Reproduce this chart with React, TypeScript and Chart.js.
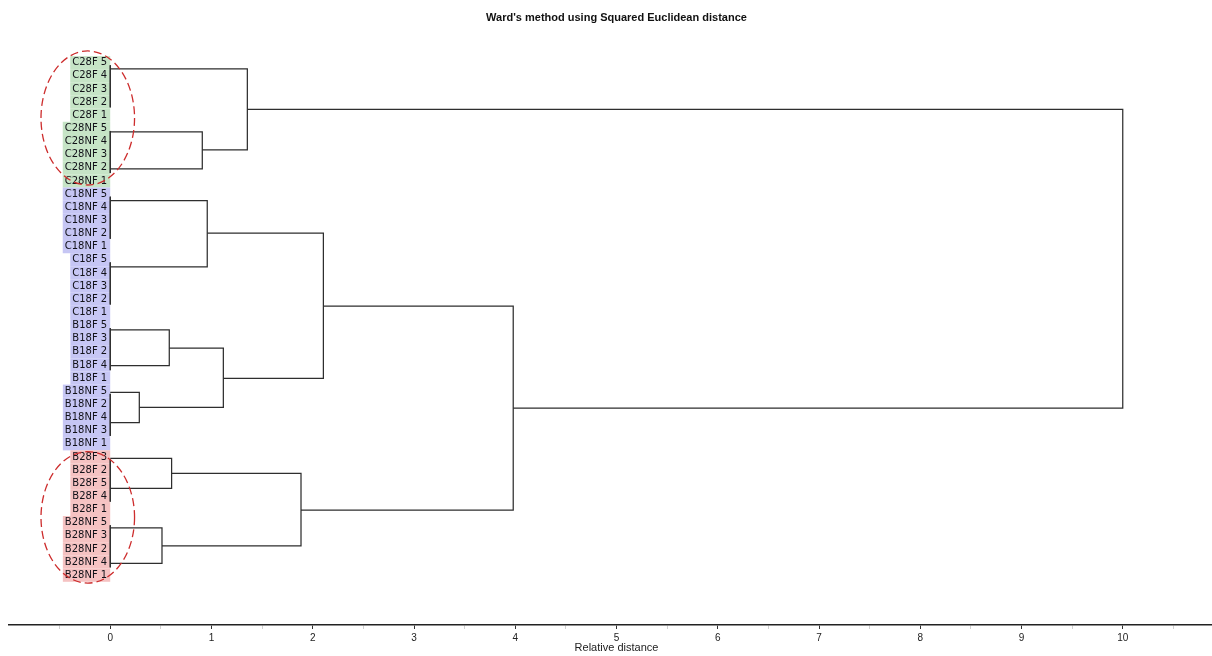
import React, { useEffect, useRef } from 'react';
import { Chart, registerables } from 'chart.js';

Chart.register(...registerables);

// Leaf labels, top to bottom (row index = position on the y scale)
const LEAVES = [
  'C28F 5', 'C28F 4', 'C28F 3', 'C28F 2', 'C28F 1',
  'C28NF 5', 'C28NF 4', 'C28NF 3', 'C28NF 2', 'C28NF 1',
  'C18NF 5', 'C18NF 4', 'C18NF 3', 'C18NF 2', 'C18NF 1',
  'C18F 5', 'C18F 4', 'C18F 3', 'C18F 2', 'C18F 1',
  'B18F 5', 'B18F 3', 'B18F 2', 'B18F 4', 'B18F 1',
  'B18NF 5', 'B18NF 2', 'B18NF 4', 'B18NF 3', 'B18NF 1',
  'B28F 3', 'B28F 2', 'B28F 5', 'B28F 4', 'B28F 1',
  'B28NF 5', 'B28NF 3', 'B28NF 2', 'B28NF 4', 'B28NF 1',
];

// Dendrogram links: merge distance, rows of the two joined branches, and the
// distances at which each branch itself was formed.
const LINK_HEIGHT = [0.909, 1.354, 0.958, 0.583, 0.287, 1.117, 2.105, 0.606, 0.511, 1.884, 3.98, 10.0];
const LINK_TOP_ROW = [5.27, 0.48, 10.5, 20.34, 25.08, 21.73, 12.98, 30.11, 35.39, 31.25, 18.52, 3.56];
const LINK_BOTTOM_ROW = [8.09, 6.64, 15.53, 23.06, 27.4, 26.23, 24.02, 32.39, 38.1, 36.76, 34.04, 26.28];
const LINK_TOP_CHILD = [0, 0, 0, 0, 0, 0.583, 0.958, 0, 0, 0.606, 2.105, 1.354];
const LINK_BOTTOM_CHILD = [0, 0.909, 0, 0, 0, 0.287, 1.117, 0, 0, 0.511, 1.884, 3.98];

// Zero-distance joins of the replicate leaves (short bars next to labels)
const GROUP_BAR_TOP = [0.2, 5.2, 10.2, 15.2, 20.2, 25.2, 30.2, 35.2];
const GROUP_BAR_BOTTOM = [3.4, 8.4, 13.4, 18.4, 23.4, 28.4, 33.4, 38.4];

// X axis
const X_MIN = -1;
const X_MAX = 11;
const X_LABELED = [0, 1, 2, 3, 4, 5, 6, 7, 8, 9, 10];

// Dashed ellipses highlighting the 28 groups
const ELLIPSE_CENTER_X = [-0.222, -0.222];
const ELLIPSE_CENTER_ROW = [4.21, 34.6];
const ELLIPSE_RX = [0.462, 0.462];
const ELLIPSE_RY = [5.1, 5.0];

const Y_MIN = -2.47;
const Y_MAX = 42.79;
const LABEL_ANCHOR_X = -0.03;

const GREEN = 'rgb(198,228,198)';
const BLUE = 'rgb(198,198,244)';
const RED = 'rgb(245,194,194)';

function leafColor(label: string): string {
  if (label.startsWith('C28')) return GREEN;
  if (label.startsWith('B28')) return RED;
  return BLUE;
}

const LINE_COLOR = '#2e2e2e';

const ellipsePlugin = {
  id: 'groupEllipses',
  afterDatasetsDraw(chart: any) {
    const { ctx, scales } = chart;
    const x = scales.x;
    const y = scales.y;
    ctx.save();
    ctx.strokeStyle = 'rgb(205,45,45)';
    ctx.lineWidth = 1.3;
    ctx.setLineDash([8, 4]);
    ELLIPSE_CENTER_ROW.forEach((row, i) => {
      const cx = x.getPixelForValue(ELLIPSE_CENTER_X[i]);
      const cy = y.getPixelForValue(row);
      const rx = Math.abs(x.getPixelForValue(ELLIPSE_CENTER_X[i] + ELLIPSE_RX[i]) - cx);
      const ry = Math.abs(y.getPixelForValue(row + ELLIPSE_RY[i]) - cy);
      ctx.beginPath();
      ctx.ellipse(cx, cy, rx, ry, 0, 0, Math.PI * 2);
      ctx.stroke();
    });
    ctx.restore();
  },
};

export default function App() {
  const canvasRef = useRef<HTMLCanvasElement | null>(null);

  useEffect(() => {
    document.body.style.overflow = 'hidden';
    const canvas = canvasRef.current;
    if (!canvas) return;

    const linkSets = LINK_HEIGHT.map((h, i) => ({
      data: [
        { x: LINK_TOP_CHILD[i], y: LINK_TOP_ROW[i] },
        { x: h, y: LINK_TOP_ROW[i] },
        { x: h, y: LINK_BOTTOM_ROW[i] },
        { x: LINK_BOTTOM_CHILD[i], y: LINK_BOTTOM_ROW[i] },
      ],
      showLine: true,
      borderColor: LINE_COLOR,
      borderWidth: 1.25,
      pointRadius: 0,
      fill: false,
      tension: 0,
    }));

    const barSets = GROUP_BAR_TOP.map((top, i) => ({
      data: [
        { x: 0, y: top },
        { x: 0, y: GROUP_BAR_BOTTOM[i] },
      ],
      showLine: true,
      borderColor: LINE_COLOR,
      borderWidth: 1,
      pointRadius: 0,
      fill: false,
      tension: 0,
    }));

    const chart = new Chart(canvas, {
      type: 'scatter',
      data: { datasets: [...barSets, ...linkSets] as any },
      plugins: [ellipsePlugin],
      options: {
        animation: false,
        responsive: true,
        maintainAspectRatio: false,
        layout: { padding: { left: 9, right: 0, top: 0, bottom: 0 } },
        plugins: {
          legend: { display: false },
          tooltip: { enabled: false },
          title: {
            display: true,
            text: "Ward's method using Squared Euclidean distance",
            color: '#111111',
            font: { family: '"Liberation Sans", Arial, sans-serif', size: 11, weight: 'bold' },
            padding: { top: 11, bottom: 6 },
          },
        },
        scales: {
          x: {
            type: 'linear',
            position: 'bottom',
            min: X_MIN,
            max: X_MAX,
            afterBuildTicks: (scale: any) => {
              scale.ticks = scale.ticks.filter((t: any) => t.value > X_MIN + 0.01 && t.value < X_MAX - 0.01);
            },
            afterFit: (scale: any) => {
              scale.height = 31;
            },
            ticks: {
              stepSize: 0.5,
              autoSkip: false,
              maxRotation: 0,
              padding: 3,
              color: '#222222',
              font: { family: '"Liberation Sans", Arial, sans-serif', size: 10 },
              callback: (v: any) => (X_LABELED.includes(Number(v)) ? String(v) : ''),
            },
            grid: {
              drawOnChartArea: false,
              drawTicks: true,
              tickLength: 4,
              tickColor: (ctx: any) =>
                ctx.tick && Number.isInteger(ctx.tick.value) ? '#333333' : 'rgba(0,0,0,0.18)',
            },
            border: { display: true, color: '#222222', width: 1.6 },
            title: {
              display: true,
              text: 'Relative distance',
              color: '#222222',
              font: { family: '"Liberation Sans", Arial, sans-serif', size: 11 },
              padding: { top: 0, bottom: 1 },
            },
          },
          y: {
            type: 'linear',
            position: { x: LABEL_ANCHOR_X } as any,
            reverse: true,
            min: Y_MIN,
            max: Y_MAX,
            afterBuildTicks: (scale: any) => {
              scale.ticks = LEAVES.map((_, i) => ({ value: i }));
            },
            ticks: {
              autoSkip: false,
              padding: 4,
              color: '#111118',
              font: { family: '"DejaVu Sans", Verdana, sans-serif', size: 10 },
              callback: (v: any) => LEAVES[Number(v)] ?? '',
              showLabelBackdrop: true,
              backdropColor: (ctx: any) => leafColor(LEAVES[ctx.index] ?? ''),
              backdropPadding: { top: 0.6, bottom: 0.6, left: 2, right: 3 },
            },
            grid: { display: false, drawTicks: false },
            border: { display: false },
          },
        },
      } as any,
    });

    return () => chart.destroy();
  }, []);

  return (
    <div style={{ position: 'fixed', left: 0, top: 0, width: 1224, height: 656, background: '#ffffff' }}>
      <canvas ref={canvasRef} />
    </div>
  );
}
